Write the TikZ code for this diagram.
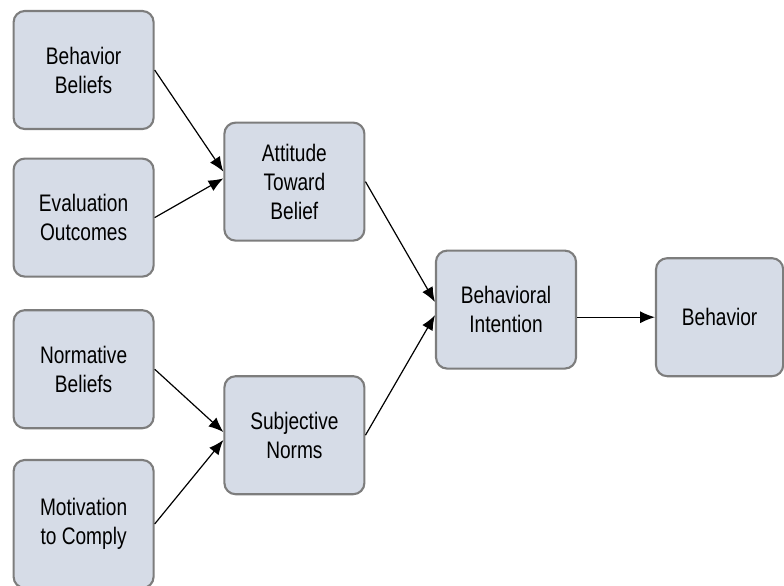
\documentclass[tikz,border=0pt]{standalone}
\usepackage{fontspec}
\setmainfont{Liberation Sans}[FakeStretch=0.8]
\usepackage{tikz}
\usetikzlibrary{arrows.meta}
\definecolor{boxfill}{RGB}{214,220,231}
\definecolor{boxline}{RGB}{125,125,125}
\tikzset{
  factor/.style={draw=boxline, fill=boxfill, line width=1.5pt, rounded corners=0.28cm,
    minimum width=3.5cm, minimum height=2.95cm, align=center,
    font=\fontsize{17}{20.6}\selectfont},
}

\begin{document}
\begin{tikzpicture}[->, >={Latex[length=10.5pt,width=8.5pt]}, line width=0.85pt]

    \useasboundingbox (0,0) rectangle (19.6,-14.625);

    \node[factor] (bb) at (2.09, -1.75) {Behavior\\Beliefs};
    \node[factor] (eo) at (2.09, -5.44) {Evaluation\\Outcomes};
    \node[factor] (nb) at (2.09, -9.23) {Normative\\Beliefs};
    \node[factor, minimum height=3.2cm] (mc) at (2.09, -13.1) {Motivation\\to Comply};
    \node[factor] (att) at (7.36, -4.54) {Attitude\\Toward\\Belief};
    \node[factor] (sn) at (7.36, -10.88) {Subjective\\Norms};
    \node[factor] (bi) at (12.65, -7.74) {Behavioral\\Intention};
    \node[factor, minimum width=3.18cm] (beh) at (17.99, -7.93) {Behavior};

    \draw (bb.east) -- ([yshift=0.25cm]att.west);
    \draw (eo.east) -- ([yshift=0.08cm]att.west);
    \draw (nb.east) -- ([yshift=0.08cm]sn.west);
    \draw (mc.east) -- ([yshift=-0.12cm]sn.west);
    \draw (att.east) -- ([yshift=0.19cm]bi.west);
    \draw (sn.east) -- ([yshift=-0.14cm]bi.west);
    \draw (bi.east |- beh.west) -- (beh.west);

\end{tikzpicture}
\end{document}
